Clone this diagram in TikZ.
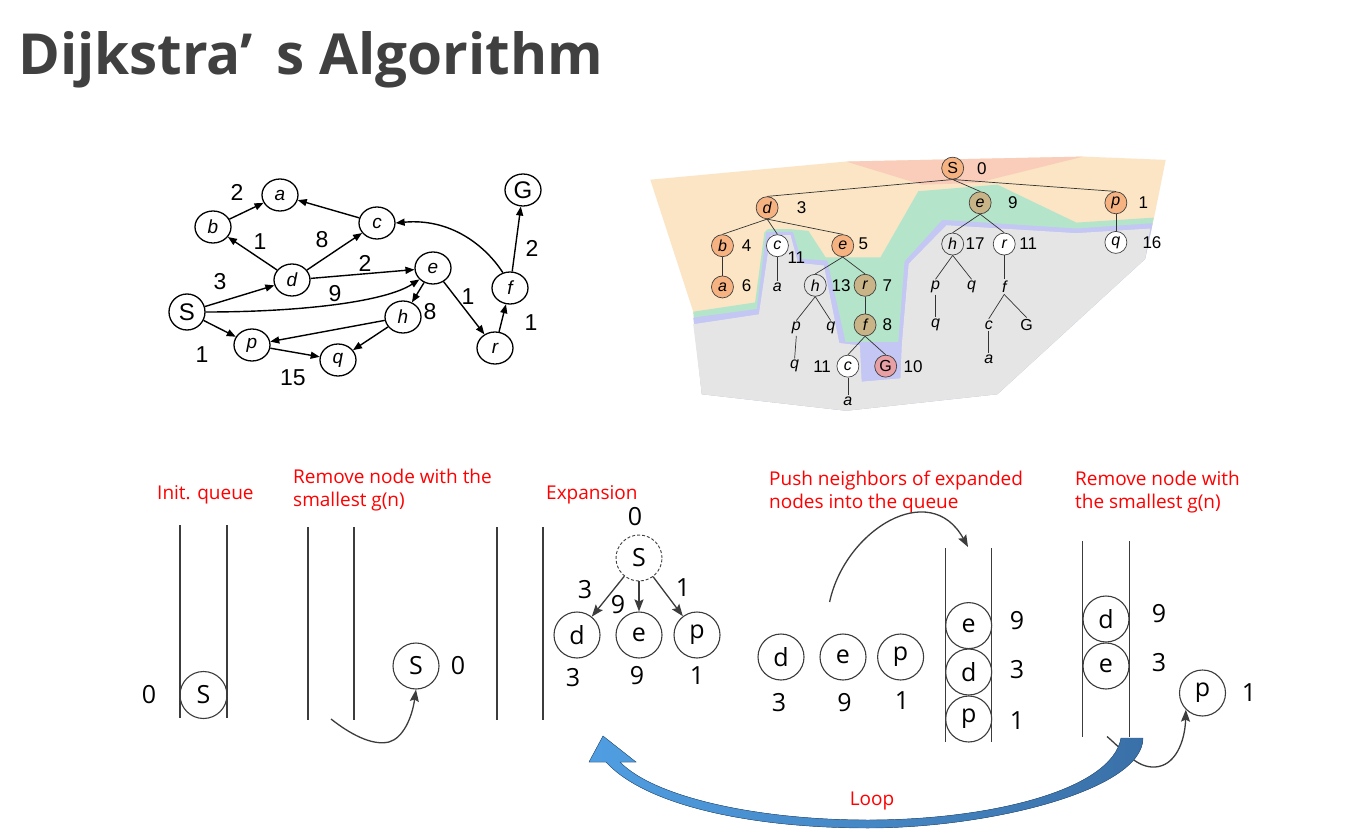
\documentclass[tikz,border=0pt]{standalone}
\usepackage{fontspec}
\setmainfont{Open Sans}
\newfontfamily\arialf{Liberation Sans}
\usetikzlibrary{arrows.meta,shapes.geometric}
\definecolor{titlegray}{RGB}{64,64,64}
\definecolor{linegray}{RGB}{60,60,60}
\definecolor{peach}{RGB}{251,229,196}
\definecolor{pinkbg}{RGB}{249,205,186}
\definecolor{mint}{RGB}{180,228,202}
\definecolor{lavender}{RGB}{196,198,244}
\definecolor{graybg}{RGB}{229,229,229}
\definecolor{orangenode}{RGB}{246,178,128}
\definecolor{olivenode}{RGB}{200,180,135}
\definecolor{pinknode}{RGB}{232,160,165}
\definecolor{loopdark}{RGB}{58,112,168}
\definecolor{looplight}{RGB}{80,158,226}
\tikzset{
 redlabel/.style={text=red, font=\fontsize{19}{22.5}\selectfont, align=left, inner sep=0, anchor=base west},
 qline/.style={draw=linegray, line width=1.1pt},
 qnode/.style={circle, draw=linegray, line width=1.1pt, minimum size=46pt, inner sep=0, font=\fontsize{25}{25}\selectfont},
 qnum/.style={font=\fontsize{25}{25}\selectfont, inner sep=0},
 garrow/.style={draw=linegray, line width=1.3pt, -{Stealth[length=12pt,width=9pt,inset=2pt]}},
 gnode/.style={ellipse, draw=black, line width=1.3pt, minimum width=36pt, minimum height=32pt, inner sep=0, font=\arialf\itshape\fontsize{19}{19}\selectfont},
 gbig/.style={gnode, font=\arialf\fontsize{24}{24}\selectfont},
 glabel/.style={font=\arialf\fontsize{23}{23}\selectfont, inner sep=0},
 gedge/.style={draw=black, line width=1.4pt, -{Triangle[length=9pt,width=7pt]}},
 tnode/.style={circle, draw=black!75, line width=0.7pt, minimum size=22pt, inner sep=0, font=\arialf\itshape\fontsize{16}{16}\selectfont, fill=white},
 ttext/.style={inner sep=1.5pt, font=\arialf\itshape\fontsize{16}{16}\selectfont},
 tnum/.style={inner sep=0, font=\arialf\fontsize{17}{17}\selectfont},
 tedge/.style={draw=black!80, line width=0.7pt},
}
\begin{document}
\begin{tikzpicture}[x=1pt,y=-1pt]
\useasboundingbox (0,0) rectangle (1371,837);
\fill[white] (0,0) rectangle (1371,837);

% Title
\node[anchor=base west, inner sep=0, text=titlegray, font=\fontsize{56.6}{60}\selectfont\bfseries] (title) at (18,75) {Dijkstra’\hspace{0.42em}s Algorithm};

% ---------- left graph ----------
\node[gnode] (a) at (280,195) {a};
\node[gnode] (b) at (213,227) {b};
\node[gnode] (c) at (377,223) {c};
\node[gnode] (d) at (292,280) {d};
\node[gnode] (e) at (433,268) {e};
\node[gbig, minimum width=36pt, minimum height=36pt] (S) at (187,312) {S};
\node[gnode] (h) at (403,317) {h};
\node[gnode] (p) at (252,345) {p};
\node[gnode] (q) at (338,360) {q};
\node[gnode] (r) at (495,348) {r};
\node[gnode] (f) at (510,288) {f};
\node[gbig] (G) at (523,190) {G};

\draw[gedge] (b) -- (a);
\draw[gedge] (c) -- (a);
\draw[gedge] (d) -- (b);
\draw[gedge] (d) -- (c);
\draw[gedge] (d) -- (e);
\draw[gedge] (S) -- (d);
\draw[gedge] (S.east) .. controls (300,312) and (385,302) .. (e.220);
\draw[gedge] (e) -- (h);
\draw[gedge] (e) -- (r);
\draw[gedge] (S) -- (p);
\draw[gedge] (p) -- (q);
\draw[gedge] (h) -- (p);
\draw[gedge] (h) -- (q);
\draw[gedge] (r) -- (f);
\draw[gedge] (f) -- (G);
\draw[gedge] (f.115) .. controls (485,245) and (450,218) .. (c.east);

\node[glabel] (l1) at (237,192) {2};
\node[glabel] (l2) at (260,242) {1};
\node[glabel] (l3) at (322,240) {8};
\node[glabel] (l4) at (365,263) {2};
\node[glabel] (l5) at (220,282) {3};
\node[glabel] (l6) at (335,294) {9};
\node[glabel] (l7) at (430,312) {8};
\node[glabel] (l8) at (468,297) {1};
\node[glabel] (l9) at (202,355) {1};
\node[glabel] (l10) at (293,378) {15};
\node[glabel] (l11) at (531,323) {1};
\node[glabel] (l12) at (532,248) {2};

% ---------- search tree ----------
\begin{scope}[shift={(640,150)}, x=0.3436pt, y=-0.33pt]
\fill[peach] (30,90) -- (600,35) -- (1290,20) -- (1530,30) -- (1495,210) -- (1470,330) -- (1040,740) -- (600,790) -- (180,740) -- (155,490) -- cycle;
\fill[pinkbg] (600,35) -- (1290,20) -- (980,100) -- (820,105) -- cycle;
\fill[mint] (155,490) -- (335,462) -- (362,250) -- (372,240) -- (440,240) -- (490,245) -- (540,325) -- (700,325) -- (810,125) -- (1040,105) -- (1270,220) -- (1495,205) -- (1470,330) -- (1040,740) -- (600,790) -- (180,740) -- cycle;
\fill[lavender] (155,508) -- (340,482) -- (368,248) -- (445,248) -- (468,330) -- (545,335) -- (598,582) -- (752,582) -- (770,338) -- (880,212) -- (1270,238) -- (1492,222) -- (1470,330) -- (1040,740) -- (600,790) -- (180,740) -- cycle;
\fill[graybg] (155,528) -- (346,498) -- (380,258) -- (438,258) -- (460,342) -- (535,350) -- (580,585) -- (640,592) -- (645,702) -- (758,692) -- (762,590) -- (782,345) -- (892,228) -- (1270,252) -- (1485,238) -- (1470,330) -- (1040,740) -- (600,790) -- (180,740) -- cycle;

\node[tnode, fill=orangenode, font=\arialf\fontsize{16}{16}\selectfont] (tS) at (910,55) {S};
\node[tnode, fill=orangenode] (td) at (370,175) {d};
\node[tnode, fill=olivenode] (te9) at (990,160) {e};
\node[tnode, fill=orangenode] (tp) at (1385,160) {p};
\node[tnode, fill=orangenode] (tb) at (240,290) {b};
\node[tnode] (tc) at (400,290) {c};
\node[tnode, fill=orangenode] (te5) at (590,290) {e};
\node[tnode, fill=orangenode] (ta) at (240,415) {a};
\node[ttext] (ta2) at (400,415) {a};
\node[tnode, fill=none] (th) at (510,410) {h};
\node[tnode, fill=olivenode] (tr) at (655,410) {r};
\node[ttext] (tp2) at (455,540) {p};
\node[ttext] (tq2) at (555,540) {q};
\node[tnode, fill=olivenode] (tf) at (655,530) {f};
\node[ttext] (tq3) at (450,655) {q};
\node[tnode] (tc2) at (605,655) {c};
\node[tnode, fill=pinknode, font=\arialf\fontsize{16}{16}\selectfont] (tG) at (715,655) {G};
\node[ttext] (ta3) at (605,760) {a};
\node[tnode, fill=none] (th2) at (910,285) {h};
\node[tnode] (tr2) at (1060,285) {r};
\node[tnode] (tq) at (1385,280) {q};
\node[ttext] (tp4) at (860,415) {p};
\node[ttext] (tq4) at (965,415) {q};
\node[ttext] (tf2) at (1060,415) {f};
\node[ttext] (tq5) at (860,530) {q};
\node[ttext] (tc3) at (1015,530) {c};
\node[ttext, font=\arialf\fontsize{16}{16}\selectfont] (tG2) at (1125,530) {G};
\node[ttext] (ta4) at (1015,635) {a};

\node[tnum] (n0) at (995,55) {0};
\node[tnum] (n1) at (470,175) {3};
\node[tnum] (n2) at (1085,160) {9};
\node[tnum] (n3) at (1465,160) {1};
\node[tnum] (n4) at (310,290) {4};
\node[tnum] (n5) at (455,325) {11};
\node[tnum] (n6) at (650,285) {5};
\node[tnum] (n7) at (310,410) {6};
\node[tnum] (n8) at (585,410) {13};
\node[tnum] (n9) at (720,410) {7};
\node[tnum] (n10) at (720,530) {8};
\node[tnum] (n11) at (530,655) {11};
\node[tnum] (n12) at (795,655) {10};
\node[tnum] (n13) at (975,285) {17};
\node[tnum] (n14) at (1130,285) {11};
\node[tnum] (n15) at (1490,280) {16};

\draw[tedge] (tS.south) -- (td.north);
\draw[tedge] (tS.south) -- (te9.north);
\draw[tedge] (tS.south) -- (tp.north);
\draw[tedge] (td.south) -- (tb.north);
\draw[tedge] (td.south) -- (tc.north);
\draw[tedge] (td.south) -- (te5.north);
\draw[tedge] (tb.south) -- (ta.north);
\draw[tedge] (tc.south) -- (ta2.north);
\draw[tedge] (te5.south) -- (th.north);
\draw[tedge] (te5.south) -- (tr.north);
\draw[tedge] (th.south) -- (tp2.north);
\draw[tedge] (th.south) -- (tq2.north);
\draw[tedge] (tp2.south) -- (tq3.north);
\draw[tedge] (tr.south) -- (tf.north);
\draw[tedge] (tf.south) -- (tc2.north);
\draw[tedge] (tf.south) -- (tG.north);
\draw[tedge] (tc2.south) -- (ta3.north);
\draw[tedge] (te9.south) -- (th2.north);
\draw[tedge] (te9.south) -- (tr2.north);
\draw[tedge] (th2.south) -- (tp4.north);
\draw[tedge] (th2.south) -- (tq4.north);
\draw[tedge] (tr2.south) -- (tf2.north);
\draw[tedge] (tp4.south) -- (tq5.north);
\draw[tedge] (tf2.south) -- (tc3.north);
\draw[tedge] (tf2.south) -- (tG2.north);
\draw[tedge] (tc3.south) -- (ta4.north);
\draw[tedge] (tp.south) -- (tq.north);
\end{scope}

% ---------- bottom: queue steps ----------
\node[redlabel] (t1) at (157,499) {Init. queue};
\node[redlabel] (t2) at (293,506) {Remove node with the\\smallest g(n)};
\node[redlabel] (t3) at (546,499) {Expansion};
\node[redlabel] (t4) at (769,508) {Push neighbors of expanded\\nodes into the queue};
\node[redlabel] (t5) at (1075,508) {Remove node with\\the smallest g(n)};

% queue 1
\coordinate (q1a) at (180,525); \coordinate (q1b) at (180,718);
\coordinate (q1c) at (227,525); \coordinate (q1d) at (227,718);
\draw[qline] (q1a) -- (q1b); \draw[qline] (q1c) -- (q1d);
\node[qnode, minimum size=47pt] (qS1) at (203.5,695) {S};
\node[qnum] (qS1n) at (149,695) {0};

% queue 2
\coordinate (q2a) at (308,527); \coordinate (q2b) at (308,720);
\coordinate (q2c) at (354,527); \coordinate (q2d) at (354,720);
\draw[qline] (q2a) -- (q2b); \draw[qline] (q2c) -- (q2d);
\node[qnode] (qS2) at (416,666) {S};
\node[qnum] (qS2n) at (458,666) {0};
\coordinate (ar1) at (331,719);
\draw[garrow] (ar1) .. controls (350,734) and (372,746) .. (389,742) .. controls (403,738) and (412,718) .. (qS2.south);

% queue 3 + expansion
\coordinate (q3a) at (497,527); \coordinate (q3b) at (497,720);
\coordinate (q3c) at (543,527); \coordinate (q3d) at (543,720);
\draw[qline] (q3a) -- (q3b); \draw[qline] (q3c) -- (q3d);
\node[qnum] (eS0) at (635,517) {0};
\node[qnode, dash pattern=on 3pt off 2pt, line width=0.9pt] (eS) at (639,558) {S};
\node[qnode] (ed) at (577,635) {d};
\node[qnode] (ee) at (639,635) {e};
\node[qnode] (ep) at (697,635) {p};
\draw[garrow] (eS) -- (ed);
\draw[garrow] (eS) -- (ee);
\draw[garrow] (eS) -- (ep);
\node[qnum] (eld) at (585,590) {3};
\node[qnum] (ele) at (618,605) {9};
\node[qnum] (elp) at (683,588) {1};
\node[qnum] (end) at (573,678) {3};
\node[qnum] (ene) at (637,676) {9};
\node[qnum] (enp) at (697,676) {1};

% push
\node[qnode] (pd) at (781,657) {d};
\node[qnode] (pe) at (843,657) {e};
\node[qnode] (pp) at (900.6,657) {p};
\node[qnum] (pdn) at (779,703) {3};
\node[qnum] (pen) at (844.5,703) {9};
\node[qnum] (ppn) at (902,701) {1};
\coordinate (ar2) at (829.6,602);
\coordinate (ar2t) at (968,547);
\draw[garrow] (ar2) .. controls (845,530) and (930,478) .. (ar2t);

% queue 4
\coordinate (q4a) at (945.5,548); \coordinate (q4b) at (945.5,742);
\coordinate (q4c) at (991.9,548); \coordinate (q4d) at (991.9,742);
\draw[qline] (q4a) -- (q4b); \draw[qline] (q4c) -- (q4d);
\node[qnode] (q4e) at (968.7,625.6) {e};
\node[qnode] (q4dn) at (968.7,672) {d};
\node[qnode] (q4p) at (968.7,719) {p};
\node[qnum] (q4en) at (1017,620.6) {9};
\node[qnum] (q4dnn) at (1017,670) {3};
\node[qnum] (q4pn) at (1017,721) {1};

% queue 5
\coordinate (q5a) at (1082.5,541); \coordinate (q5b) at (1082.5,736.5);
\coordinate (q5c) at (1129.5,541); \coordinate (q5d) at (1129.5,736.5);
\draw[qline] (q5a) -- (q5b); \draw[qline] (q5c) -- (q5d);
\node[qnode] (q5d1) at (1106,619) {d};
\node[qnode] (q5e1) at (1106,666) {e};
\node[qnum] (q5dn) at (1159,614) {9};
\node[qnum] (q5en) at (1159,663) {3};
\node[qnode] (q5p) at (1202.5,693) {p};
\node[qnum] (q5pn) at (1249,693) {1};
\coordinate (ar3) at (1107,736.5);
\draw[garrow] (ar3) .. controls (1125,752) and (1137,768) .. (1155,767) .. controls (1175,766) and (1185,742) .. (q5p.south west);

% loop arrow
\fill[left color=looplight, right color=loopdark, draw=loopdark!80!black, line width=0.4pt]
 (1143,738) .. controls (1143,790) and (990,828) .. (868,828)
 .. controls (750,828) and (645,805) .. (606,762)
 -- (589,762) -- (603,736) -- (636,762) -- (620,762)
 .. controls (655,798) and (760,820) .. (868,820)
 .. controls (990,820) and (1112,790) .. (1121,738) -- cycle;
\node[text=red, font=\fontsize{19}{19}\selectfont, inner sep=0] (loop) at (872,801) {Loop};
\end{tikzpicture}
\end{document}
